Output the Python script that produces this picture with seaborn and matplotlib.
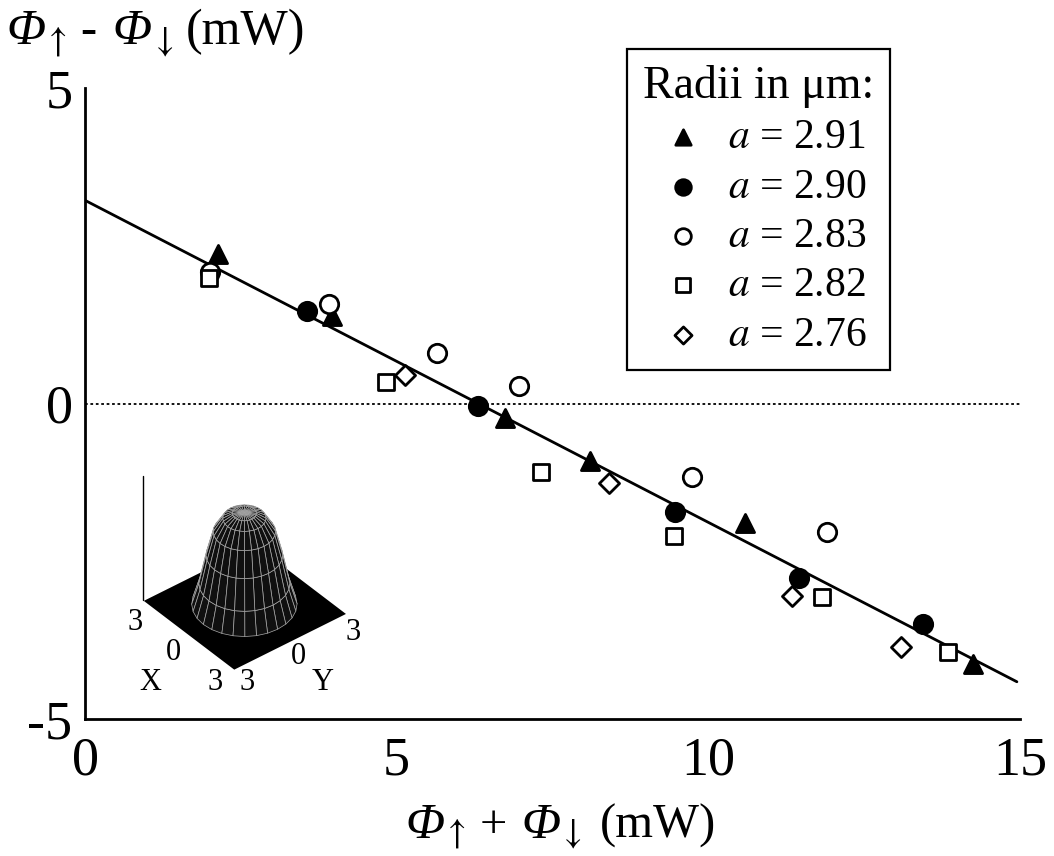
import numpy as np
import pandas as pd
import matplotlib
matplotlib.use("Agg")
import matplotlib.pyplot as plt
import seaborn as sns

# ---------------- data ----------------
x_291 = [2.13, 3.96, 6.74, 8.10, 10.59, 14.25]
y_291 = [2.37, 1.39, -0.23, -0.91, -1.89, -4.13]

x_290 = [3.56, 6.31, 9.47, 11.46, 13.44]
y_290 = [1.47, -0.04, -1.72, -2.76, -3.49]

x_283 = [2.01, 3.91, 5.65, 6.96, 9.74, 11.90]
y_283 = [2.08, 1.58, 0.80, 0.28, -1.16, -2.04]

x_282 = [1.99, 4.83, 7.32, 9.45, 11.82, 13.85]
y_282 = [1.99, 0.34, -1.09, -2.10, -3.07, -3.94]

x_276 = [5.13, 8.41, 11.34, 13.09]
y_276 = [0.45, -1.26, -3.05, -3.86]

fit_x = [0.0, 14.95]
fit_y = [3.22, -4.41]

series_labels = ["2.91", "2.90", "2.83", "2.82", "2.76"]
x_ticks = [0, 5, 10, 15]
y_ticks = [-5, 0, 5]
y_tick_labels = ["-5", "0", "5"]

# inset: radial profile of the beam
inset_r = [0.0, 0.5, 0.9, 1.3, 1.6, 1.9, 2.2]
inset_h = [1.0, 0.99, 0.94, 0.8, 0.55, 0.25, 0.03]
inset_base = [-3, 3]

# ---------------- style ----------------
sns.set_theme(style="white")
plt.rcParams["font.family"] = ["Liberation Serif", "DejaVu Serif"]
plt.rcParams["mathtext.fontset"] = "stix"
plt.rcParams["axes.unicode_minus"] = False
for k in ["text.color", "axes.labelcolor", "xtick.color", "ytick.color"]:
    plt.rcParams[k] = "black"

W, H = 1054, 856
fig = plt.figure(figsize=(W / 100, H / 100), dpi=100)
fig.patch.set_facecolor("white")

ax_l, ax_r, ax_t, ax_b = 85, 1020, 88, 719
ax = fig.add_axes([ax_l / W, 1 - ax_b / H, (ax_r - ax_l) / W, (ax_b - ax_t) / H])
ax.set_facecolor("white")

# zero line and fit line
ax.axhline(0, color="black", lw=1.3, ls=(0, (1.5, 1.5)), zorder=1)
sns.lineplot(x=fit_x, y=fit_y, color="black", lw=2.0, ax=ax, zorder=2)

specs = [
    (x_291, y_291, "^", "black", 170),
    (x_290, y_290, "o", "black", 175),
    (x_283, y_283, "o", "white", 175),
    (x_282, y_282, "s", "white", 125),
    (x_276, y_276, "D", "white", 105),
]
for (xs, ys, mk, fc, s), lab in zip(specs, series_labels):
    df = pd.DataFrame({"x": xs, "y": ys})
    sns.scatterplot(data=df, x="x", y="y", marker=mk, s=s, color="black",
                    facecolor=fc, edgecolor="black", linewidth=2.0,
                    ax=ax, label=r"$a$ = " + lab, zorder=3)

ax.set_xlim(0, 15)
ax.set_ylim(-5, 5)
ax.set_xticks(x_ticks)
ax.set_xticklabels([str(v) for v in x_ticks])
ax.set_yticks(y_ticks)
ax.set_yticklabels(y_tick_labels)
ax.set_xticks(np.arange(0, 16, 1), minor=True)
ax.set_yticks(np.arange(-5, 6, 1), minor=True)
ax.tick_params(axis="both", which="major", direction="in", length=6, width=1.3,
               labelsize=39, colors="black")
ax.tick_params(axis="x", which="major", pad=12)
ax.tick_params(axis="y", which="major", pad=9)
ax.tick_params(axis="both", which="minor", direction="in", length=4, width=1.2)

for side in ["top", "right"]:
    ax.spines[side].set_visible(False)
for side in ["left", "bottom"]:
    ax.spines[side].set_color("black")
    ax.spines[side].set_linewidth(2.0)
ax.set_xlabel("")
ax.set_ylabel("")

leg = ax.legend(title="Radii in \u03bcm:", loc="upper left",
                bbox_to_anchor=((627 - ax_l) / (ax_r - ax_l), (ax_b - 49) / (ax_b - ax_t)),
                fontsize=30, title_fontsize=33, frameon=True, fancybox=False,
                borderaxespad=0, borderpad=0.38, labelspacing=0.26,
                handlelength=1.55, handletextpad=0.3, markerscale=0.85)
leg.get_frame().set_edgecolor("black")
leg.get_frame().set_linewidth(1.6)
leg.get_frame().set_facecolor("white")
leg.get_frame().set_alpha(1)


# ---------------- axis titles built from pieces ----------------
def draw_pieces(x_px, base_px, pieces):
    renderer = fig.canvas.get_renderer()
    x = x_px
    for text, size, style, dy, gap in pieces:
        t = fig.text(x / W, 1 - (base_px + dy) / H, text, fontsize=size,
                     fontstyle=style, ha="left", va="baseline", color="black")
        bb = t.get_window_extent(renderer=renderer)
        x += bb.width + gap


UP = r"$\uparrow$"
DOWN = r"$\downarrow$"
ylab_pieces = [
    ("\u03a6", 37, "italic", 0, -2), (UP, 26, "normal", 7, 14),
    ("-", 35, "normal", 0, 16), ("\u03a6", 37, "italic", 0, -2),
    (DOWN, 26, "normal", 7, 12), ("(mW)", 36, "normal", 0, 0),
]
draw_pieces(6, 44, ylab_pieces)

xlab_pieces = [
    ("\u03a6", 37, "italic", 0, -2), (UP, 26, "normal", 5, 14),
    ("+", 35, "normal", 0, 14), ("\u03a6", 37, "italic", 0, -2),
    (DOWN, 26, "normal", 5, 18), ("(mW)", 35, "normal", 0, 0),
]
draw_pieces(405, 838, xlab_pieces)

# ---------------- inset 3D beam profile ----------------
in_l, in_r, in_t, in_b = 106, 376, 423, 673
ax3 = fig.add_axes([in_l / W, 1 - in_b / H, (in_r - in_l) / W, (in_b - in_t) / H],
                   projection="3d", computed_zorder=False, proj_type="ortho")
ax3.set_facecolor((1, 1, 1, 0))
bx, by = np.meshgrid(inset_base, inset_base)
ax3.plot_surface(bx, by, np.zeros_like(bx, dtype=float), color="black",
                 shade=False, linewidth=0, antialiased=False, zorder=1)
r = np.array(inset_r)
th = np.linspace(0, 2 * np.pi, 29)
R, TH = np.meshgrid(r, th)
Z = np.tile(np.array(inset_h), (len(th), 1))
ax3.plot_surface(R * np.cos(TH), R * np.sin(TH), Z, color="#101010",
                 edgecolor="#aaaaaa", linewidth=0.5, shade=False, zorder=2)
ax3.plot([-3, -3], [-3, -3], [0, 1.32], color="black", lw=1.0, zorder=3)
ax3.set_xlim(-3, 3)
ax3.set_ylim(-3, 3)
ax3.set_zlim(0, 1.32)
ax3.view_init(elev=38, azim=-39)
ax3.set_box_aspect((1, 1, 1.1))
ax3.set_axis_off()

inset_texts = [
    ("3", 135, 623), ("0", 173, 652), ("X", 150, 683), ("3", 215, 683),
    ("3", 247, 683), ("0", 298, 657), ("Y", 323, 683), ("3", 353, 633),
]
for t, px, py in inset_texts:
    fig.text(px / W, 1 - py / H, t, fontsize=22, ha="center", va="center", color="black")

fig.savefig("out.png", dpi=100, facecolor="white")
